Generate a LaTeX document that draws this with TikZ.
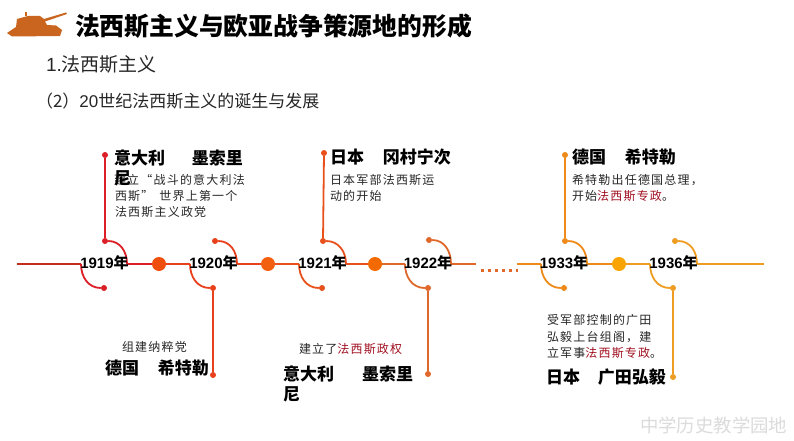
\documentclass[tikz,border=0pt]{standalone}
\usepackage{fontspec}
\setmainfont{Noto Sans CJK SC}
\newfontfamily\descfont[LetterSpace=10]{Noto Sans CJK SC}
\newfontfamily\latinf{Liberation Sans}
\definecolor{cA}{HTML}{DC1F26}\definecolor{cB}{HTML}{E8401A}\definecolor{cC}{HTML}{E8501C}
\definecolor{cD}{HTML}{E0682A}\definecolor{cE}{HTML}{EE8A1A}\definecolor{cF}{HTML}{EE9C22}
\definecolor{cZ}{HTML}{C42C1C}
\definecolor{hA}{HTML}{F04E0C}\definecolor{hB}{HTML}{F2600F}\definecolor{hC}{HTML}{F56A00}\definecolor{hD}{HTML}{F9A400}
\definecolor{emred}{HTML}{A01020}\definecolor{tank}{HTML}{C9651E}
\newcommand{\emr}[1]{\textcolor{emred}{#1}}
\newcommand{\yr}[1]{{\latinf #1}年}
\tikzset{
 x=1pt,y=-1pt,
 txt/.style={anchor=base west,inner sep=0pt,outer sep=0pt},
 person/.style={txt,font=\fontsize{17}{17}\selectfont\bfseries,text=black},
 desc/.style={txt,font=\fontsize{12}{12}\selectfont\descfont,text=black!85},
 yearlab/.style={inner sep=0pt,font=\fontsize{15}{15}\selectfont\bfseries,text=black},
 tip/.style={circle,fill,inner sep=0pt,minimum size=6pt},
 hub/.style={circle,fill,inner sep=0pt,minimum size=14pt},
 wire/.style={line width=1.8pt},
}
\begin{document}
\begin{tikzpicture}
\useasboundingbox (0,0) rectangle (794,441);
% tank emblem
\fill[tank] (7,33) -- (16,27) -- (17,19) -- (28,16) -- (40,16) -- (44,19) -- (66,12.5) -- (67,14) -- (45,21.5) -- (47,25) -- (56,25.5) -- (62,30) -- (60,36) -- (12,36.5) -- cycle;
\fill[tank] (25,16) rectangle (27,12);
% headings
\node[txt,font=\fontsize{24.8}{25}\selectfont\bfseries] (title) at (75,36) {法西斯主义与欧亚战争策源地的形成};
\node[txt,font=\fontsize{19}{19}\selectfont,text=black!85] (h1) at (46,72) {{\latinf 1.}法西斯主义};
\node[txt,font=\fontsize{17}{17}\selectfont,text=black!85] (h2) at (36,107) {（2）{\latinf 20}世纪法西斯主义的诞生与发展};
% coordinates of the timeline
\coordinate (start) at (17,264);
\coordinate (a1) at (81,264);\coordinate (b1) at (127,264);
\coordinate (a2) at (190,264);\coordinate (b2) at (237,264);
\coordinate (a3) at (299,264);\coordinate (b3) at (346,264);
\coordinate (a4) at (405,264);\coordinate (b4) at (451,264);
\coordinate (gapL) at (476,264);\coordinate (gapR) at (517,264);
\coordinate (a5) at (541,264);\coordinate (b5) at (587,264);
\coordinate (a6) at (650,264);\coordinate (b6) at (697,264);
\coordinate (finish) at (764,264);
% hubs
\node[hub,hA] (h12) at (159,264) {};
\node[hub,hB] (h23) at (268,264) {};
\node[hub,hC] (h34) at (375,264) {};
\node[hub,hD] (h56) at (619,264) {};
% tips
\node[tip,cA] (t1a) at (105,155) {};\node[tip,cA] (t1b) at (105,241) {};\node[tip,cA] (t1c) at (104,288) {};
\node[tip,cB] (t2a) at (215,241) {};\node[tip,cB] (t2b) at (213,288) {};\node[tip,cB] (t2c) at (213,375) {};
\node[tip,cC] (t3a) at (324,153) {};\node[tip,cC] (t3b) at (323,241) {};\node[tip,cC] (t3c) at (322,288) {};
\node[tip,cD] (t4a) at (429,240) {};\node[tip,cD] (t4b) at (428,288) {};\node[tip,cD] (t4c) at (428,374) {};
\node[tip,cE] (t5a) at (565,155) {};\node[tip,cE] (t5b) at (565,241) {};\node[tip,cE] (t5c) at (564,288) {};
\node[tip,cF] (t6a) at (675,241) {};\node[tip,cF] (t6b) at (673,288) {};\node[tip,cF] (t6c) at (673,377) {};
% line segments
\draw[wire,cZ] (start) -- (a1);
\draw[wire,cA] (b1) -- (h12);
\draw[wire,cB] (h12) -- (a2) (b2) -- (h23);
\draw[wire,cC] (h23) -- (a3) (b3) -- (h34);
\draw[wire,cD] (h34) -- (a4) (b4) -- (gapL);
\draw[wire,cE] (gapR) -- (a5) (b5) -- (h56);
\draw[wire,cF] (h56) -- (a6) (b6) -- (finish);
% arcs and stems
\foreach \n/\a/\b/\c in {1/cA/t1b/t1c,2/cB/t2a/t2b,3/cC/t3b/t3c,4/cD/t4a/t4b,5/cE/t5b/t5c,6/cF/t6a/t6b}{
  \draw[wire,\a] (\b) to[out=0,in=90,looseness=1.05] (b\n);
  \draw[wire,\a] (a\n) to[out=-90,in=180,looseness=1.05] (\c);
}
\draw[wire,cA] (t1a) -- (t1b);
\draw[wire,cB] (t2b) -- (t2c);
\draw[wire,cC] (t3a) -- (t3b);
\draw[wire,cD] (t4b) -- (t4c);
\draw[wire,cE] (t5a) -- (t5b);
\draw[wire,cF] (t6b) -- (t6c);
% dotted gap
\coordinate (dotL) at (481,270);\coordinate (dotR) at (518,270);
\draw[line width=3pt,cD,dash pattern=on 3pt off 4pt] (dotL) -- (dotR);
% year labels
\node[yearlab] (y1) at (104.5,263) {\yr{1919}};
\node[yearlab] (y2) at (213.5,263) {\yr{1920}};
\node[yearlab] (y3) at (322.5,263) {\yr{1921}};
\node[yearlab] (y4) at (428,263) {\yr{1922}};
\node[yearlab] (y5) at (564,263) {\yr{1933}};
\node[yearlab] (y6) at (673.5,263) {\yr{1936}};
% descriptions
\node[desc] (d1a) at (114,184) {建立“战斗的意大利法};
\node[desc] (d1b) at (115,200) {西斯”\hspace{6pt}世界上第一个};
\node[desc] (d1c) at (115,216) {法西斯主义政党};
\node[desc] (d2) at (122,351) {组建纳粹党};
\node[desc] (d3a) at (330,184) {日本军部法西斯运};
\node[desc] (d3b) at (330,200) {动的开始};
\node[desc] (d4) at (299,353) {建立了\emr{法西斯政权}};
\node[desc] (d5a) at (572,184) {希特勒出任德国总理，};
\node[desc] (d5b) at (572,200) {开始\emr{法西斯专政}。};
\node[desc] (d6a) at (547,324) {受军部控制的广田};
\node[desc] (d6b) at (547,341) {弘毅上台组阁，建};
\node[desc] (d6c) at (547,357) {立军事\emr{法西斯专政}。};
% persons
\node[person] (p1) at (114,164) {意大利\hspace{27pt}墨索里};
\node[person] (p1b) at (114,184) {尼};
\node[person] (p2) at (105,374) {德国\hspace{19pt}希特勒};
\node[person] (p3) at (330,163) {日本\hspace{19pt}冈村宁次};
\node[person] (p4) at (283,380) {意大利\hspace{28pt}墨索里};
\node[person] (p4b) at (283,400) {尼};
\node[person] (p5) at (572,163) {德国\hspace{19pt}希特勒};
\node[person] (p6) at (546,383) {日本\hspace{18pt}广田弘毅};
% watermark
\node[txt,font=\fontsize{18.4}{18.4}\selectfont,text=black!14] (wm) at (640,432) {中学历史教学园地};
\end{tikzpicture}
\end{document}
